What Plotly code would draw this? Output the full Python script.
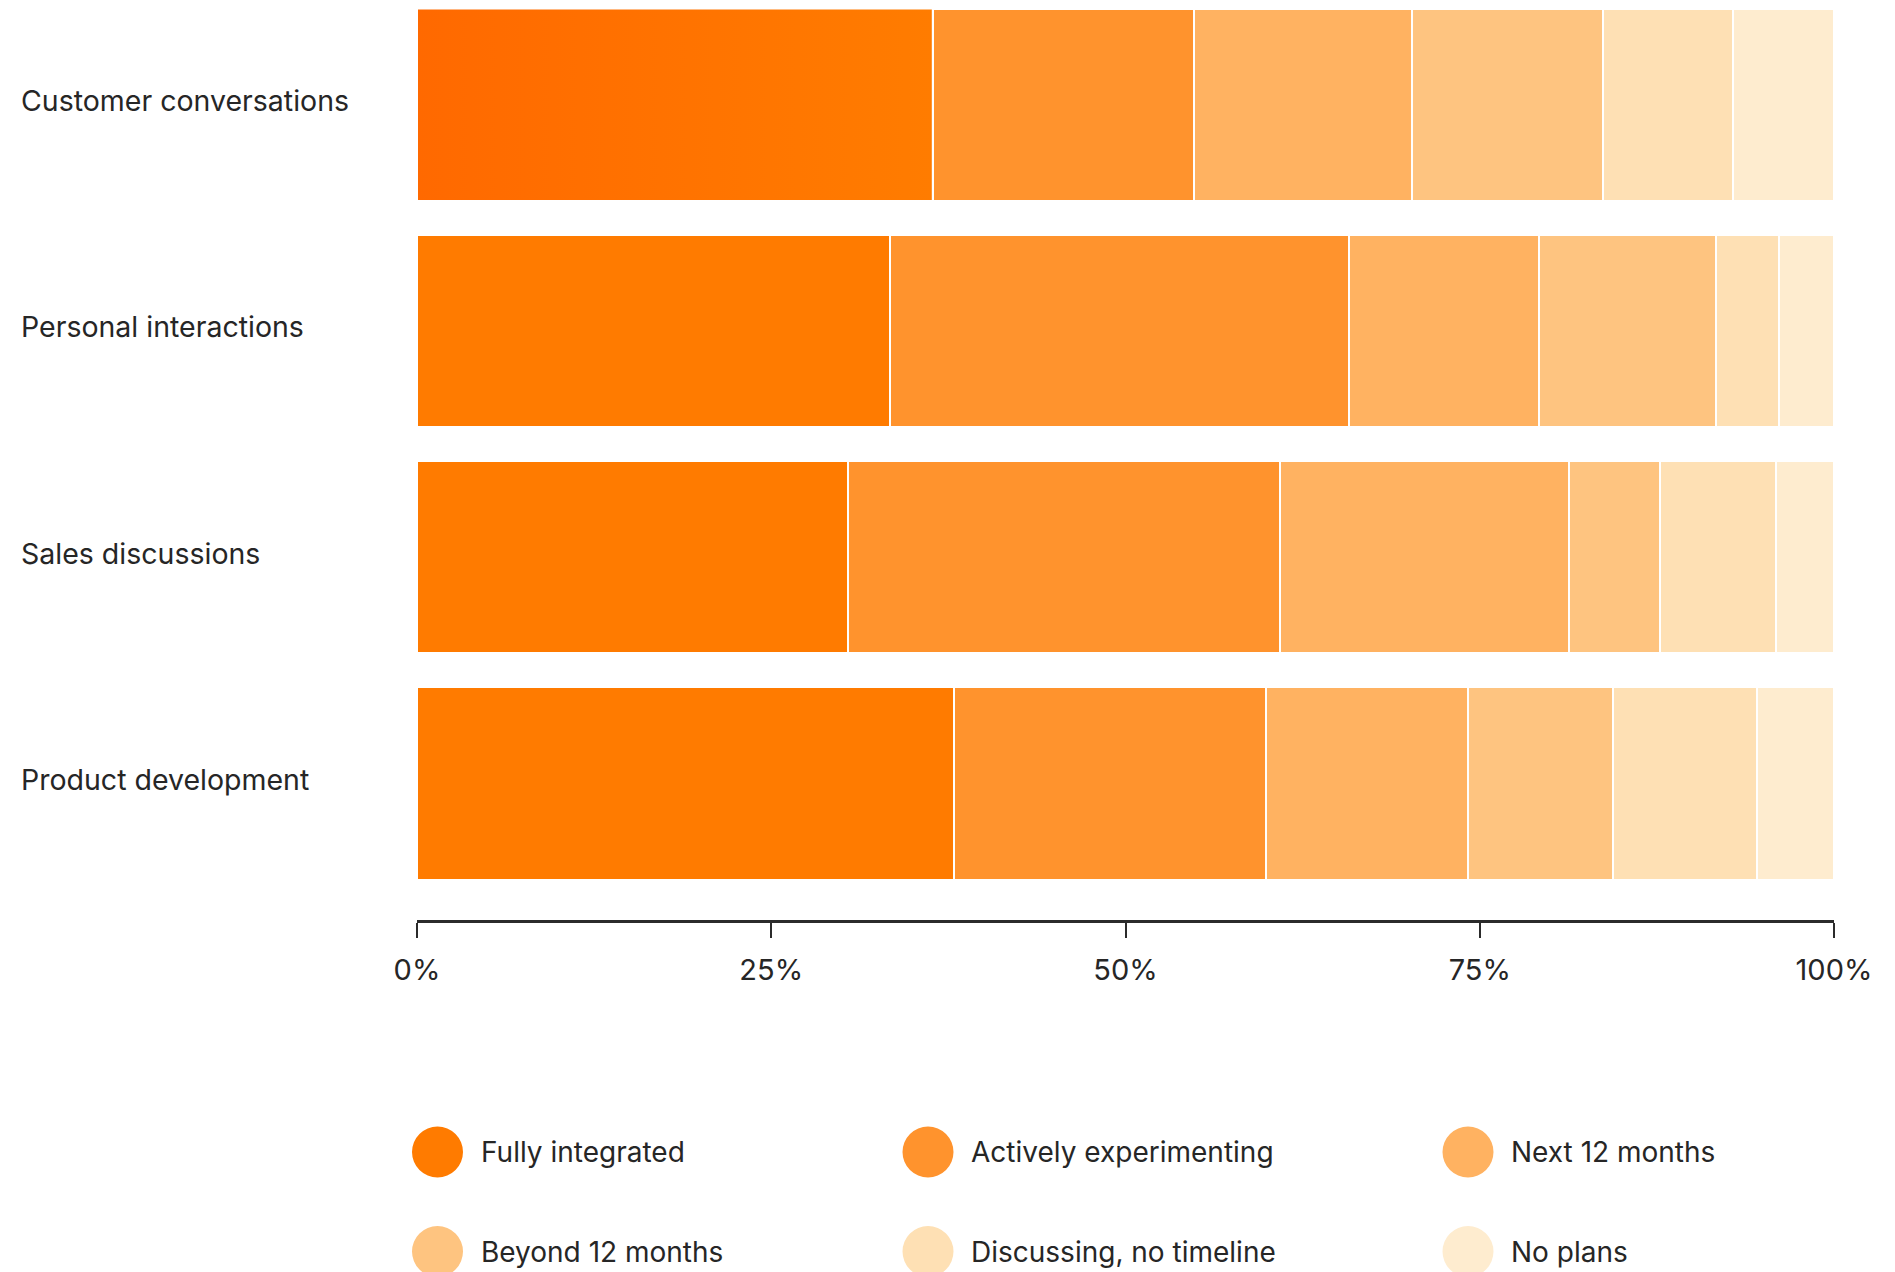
import plotly.graph_objects as go

# Survey data: share of respondents (%) per use case and adoption stage
categories = [
    "Customer conversations",
    "Personal interactions",
    "Sales discussions",
    "Product development",
]
stages = [
    "Fully integrated",
    "Actively experimenting",
    "Next 12 months",
    "Beyond 12 months",
    "Discussing, no timeline",
    "No plans",
]
fully_integrated = [36.4, 33.4, 30.4, 37.9]
actively_experimenting = [18.4, 32.4, 30.5, 22.0]
next_12_months = [15.4, 13.4, 20.4, 14.3]
beyond_12_months = [13.5, 12.5, 6.4, 10.2]
discussing_no_timeline = [9.2, 4.4, 8.2, 10.2]
no_plans = [7.1, 3.9, 4.1, 5.4]

tick_values = [0, 25, 50, 75, 100]
tick_labels = ["0%", "25%", "50%", "75%", "100%"]

series = [
    fully_integrated,
    actively_experimenting,
    next_12_months,
    beyond_12_months,
    discussing_no_timeline,
    no_plans,
]
colors = ["#FF7B00", "#FF932D", "#FFB261", "#FEC480", "#FEE0B4", "#FEECCF"]

# Canvas geometry (pixels)
W, H = 1895, 1272
ML, MR, MT, MB = 417, 61, 0, 352
PW, PH = W - ML - MR, H - MT - MB
FONT = "Inter"
TEXT = "#262626"
AXIS = "#2b2b2b"
BAR_W = 0.85


def px_x(px):
    return (px - ML) / PW


def px_y(py):
    return (MT + PH - py) / PH


ypos = list(range(len(categories)))

fig = go.Figure()
for name, vals, col in zip(stages, series, colors):
    fig.add_trace(
        go.Bar(
            name=name,
            y=ypos,
            x=vals,
            orientation="h",
            width=BAR_W,
            marker=dict(color=col, line=dict(color="white", width=2)),
            showlegend=False,
            hoverinfo="x+name",
        )
    )

# Horizontal gradient on the leading segment of the first row
v0 = fully_integrated[0]
half = BAR_W / 2
fig.add_trace(
    go.Scatter(
        x=[0, v0, v0, 0, 0],
        y=[ypos[0] - half, ypos[0] - half, ypos[0] + half, ypos[0] + half, ypos[0] - half],
        mode="lines",
        fill="toself",
        line=dict(color="white", width=2),
        fillgradient=dict(
            type="horizontal",
            colorscale=[[0, "#FF6900"], [1, "#FF7C00"]],
        ),
        showlegend=False,
        hoverinfo="skip",
    )
)

fig.update_layout(
    width=W,
    height=H,
    margin=dict(l=ML, r=MR, t=MT, b=MB, pad=0),
    barmode="stack",
    bargap=0,
    plot_bgcolor="white",
    paper_bgcolor="white",
    font=dict(family=FONT, color=TEXT, size=28),
    showlegend=False,
)

fig.update_xaxes(
    range=[0, 100],
    tickvals=tick_values,
    ticktext=tick_labels,
    ticks="outside",
    ticklen=15,
    tickwidth=2,
    tickcolor=AXIS,
    showline=True,
    linewidth=3,
    linecolor=AXIS,
    showgrid=False,
    zeroline=False,
    tickfont=dict(family=FONT, size=29, color=TEXT),
    ticklabelstandoff=7,
)
fig.update_yaxes(
    range=[3.604, -0.463],
    showticklabels=False,
    showgrid=False,
    zeroline=False,
    showline=False,
    ticks="",
)

annotations = []
# Row labels, left aligned
for i, cat in enumerate(categories):
    annotations.append(
        dict(
            text=cat,
            xref="paper",
            yref="y",
            x=px_x(19),
            y=ypos[i],
            xanchor="left",
            yanchor="middle",
            yshift=4,
            showarrow=False,
            font=dict(family=FONT, size=28.5, color=TEXT),
        )
    )

# Custom legend: three columns, two rows
legend_cols = [437.5, 928, 1468]
legend_rows = [1152, 1251.5]
radius = 25.5
shapes = []
for k, (name, col) in enumerate(zip(stages, colors)):
    cx = legend_cols[k % 3]
    cy = legend_rows[k // 3]
    shapes.append(
        dict(
            type="circle",
            xref="paper",
            yref="paper",
            xsizemode="pixel",
            ysizemode="pixel",
            xanchor=px_x(cx),
            yanchor=px_y(cy),
            x0=-radius,
            x1=radius,
            y0=-radius,
            y1=radius,
            fillcolor=col,
            line=dict(width=0),
        )
    )
    annotations.append(
        dict(
            text=name,
            xref="paper",
            yref="paper",
            x=px_x(cx + 41),
            y=px_y(cy),
            xanchor="left",
            yanchor="middle",
            showarrow=False,
            font=dict(family=FONT, size=28, color=TEXT),
        )
    )

fig.update_layout(annotations=annotations, shapes=shapes)

fig.write_html("out.html")
